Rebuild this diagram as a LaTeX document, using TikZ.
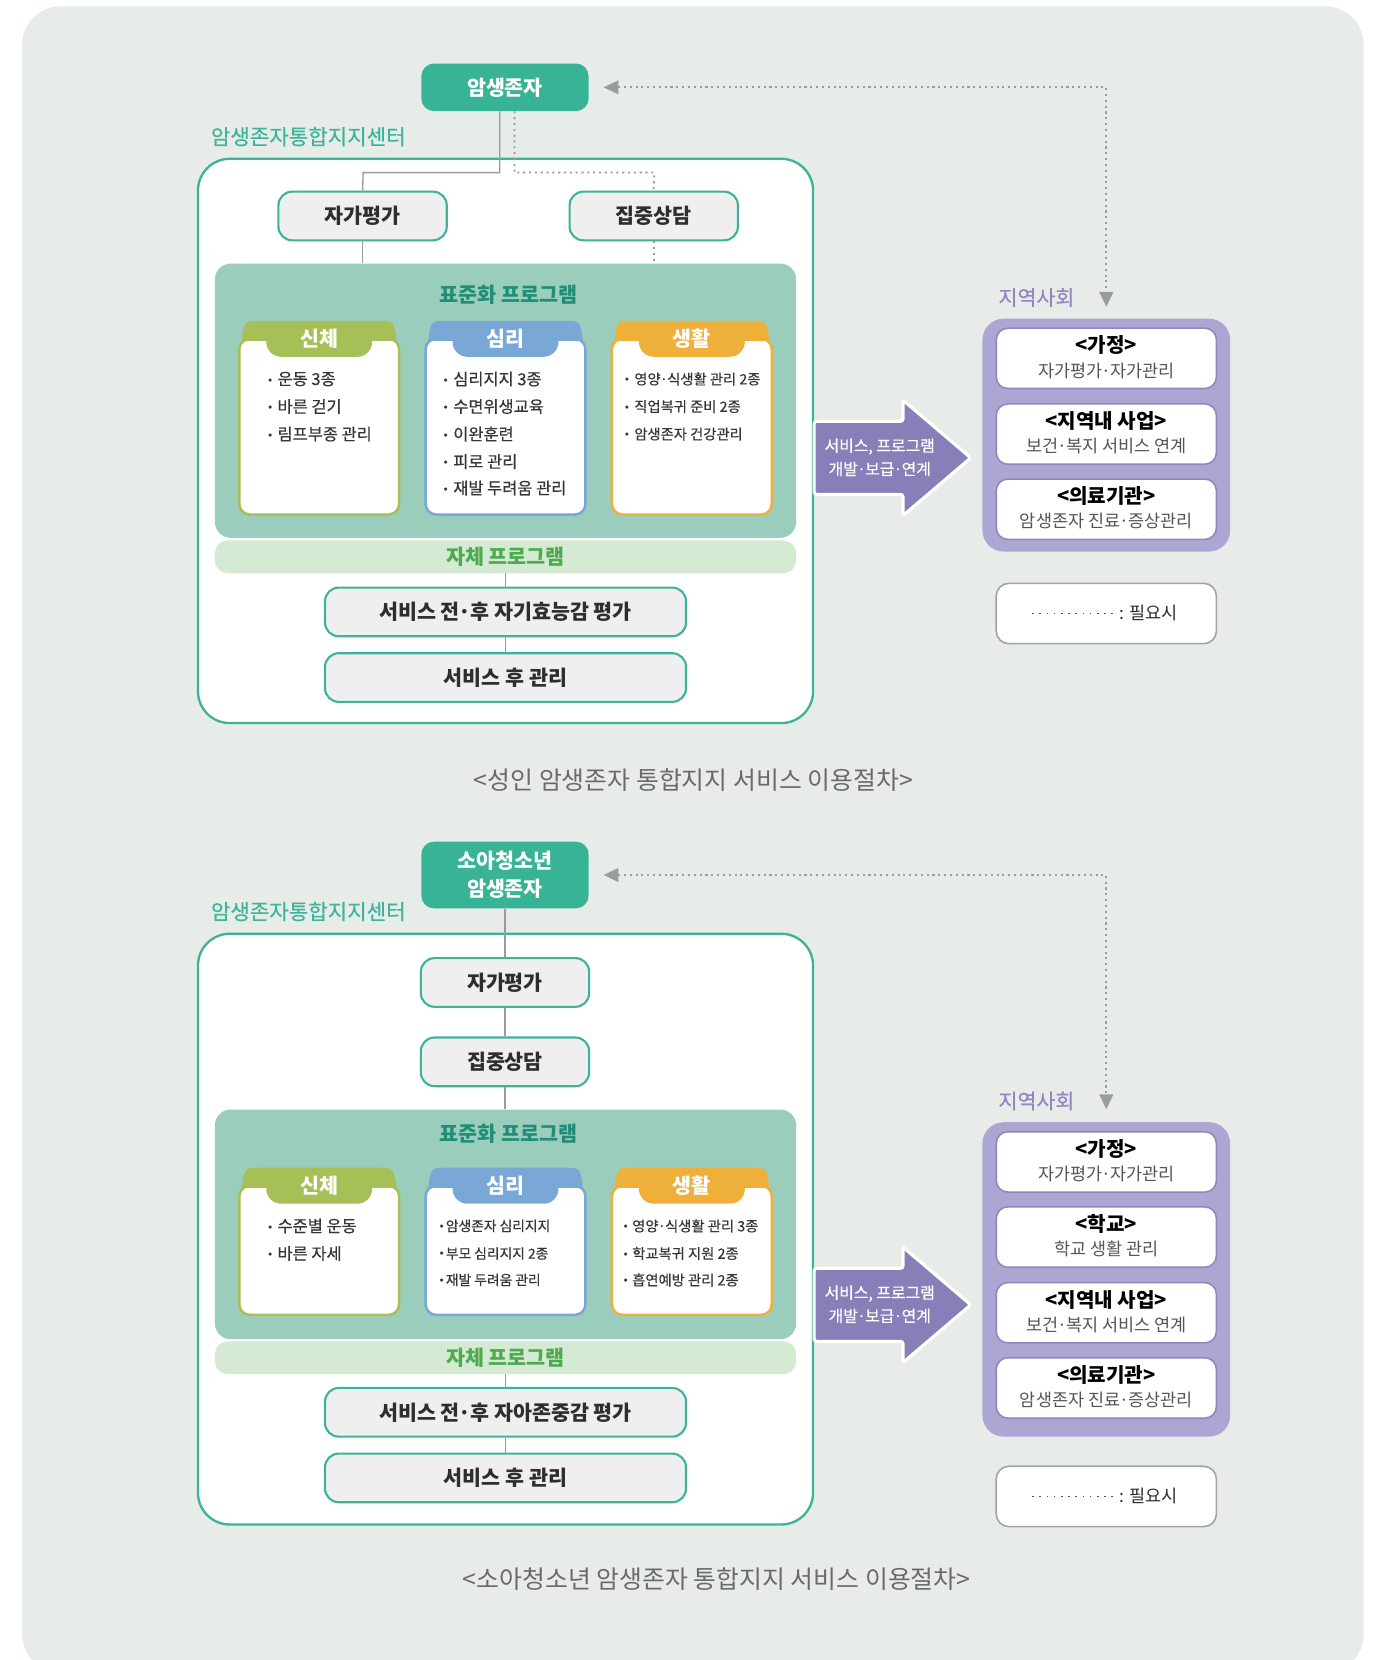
\documentclass[tikz,border=0pt]{standalone}
\usepackage{fontspec}
\setmainfont{Noto Sans CJK KR}
\newfontfamily\medf{Noto Sans CJK KR}[FakeBold=0.45]
\newfontfamily\symf{DejaVu Sans}
\usetikzlibrary{arrows.meta}
\newcommand\myfs[1]{\fontsize{#1}{#1}\selectfont}
\newcommand\md{\kern-0.05em·\kern-0.05em}
\newcommand\bulw[1]{\makebox[#1][l]{\raisebox{0.8pt}{\symf\fontsize{10}{10}\selectfont •}}}
\newcommand\bul{\bulw{10pt}}
\definecolor{bgpanel}{HTML}{E8ECE8}
\definecolor{teal1}{HTML}{38B396}
\definecolor{teal2}{HTML}{3CB39A}
\definecolor{tealtext}{HTML}{3DB49B}
\definecolor{stdfill}{HTML}{9BCDBD}
\definecolor{stdtitle}{HTML}{208E76}
\definecolor{grayfill}{HTML}{EEEFEE}
\definecolor{jachefill}{HTML}{D5EAD3}
\definecolor{jachetext}{HTML}{4CAB4F}
\definecolor{cgreen}{HTML}{A7BF57}
\definecolor{cblue}{HTML}{79A8D6}
\definecolor{corange}{HTML}{EFB03B}
\definecolor{parrow}{HTML}{877FB8}
\definecolor{pcont}{HTML}{ACA6D3}
\definecolor{pborder}{HTML}{8F87C1}
\definecolor{commtext}{HTML}{8E87C2}
\definecolor{txtdark}{HTML}{2E2E2E}
\definecolor{itemtxt}{HTML}{363636}
\definecolor{subgray}{HTML}{555555}
\definecolor{capgray}{HTML}{6A6A6A}
\definecolor{connc}{HTML}{9B9B9B}
\definecolor{legborder}{HTML}{A3A3A3}
\newcommand\cardtab[3]{%
 \fill[#3] ({#1-73},{#2+19}) .. controls ({#1-71},{#2+1}) and ({#1-70},{#2}) .. ({#1-58},{#2}) -- ({#1+58},{#2}) .. controls ({#1+70},{#2}) and ({#1+71},{#2+1}) .. ({#1+73},{#2+19}) -- cycle;
 \fill[#3, rounded corners=14pt] ({#1-50},{#2+3}) rectangle ({#1+50},{#2+34});
}
\newcommand\bigarrow[1]{%
 \filldraw[fill=parrow, draw=white, line width=3pt, rounded corners=2.5pt] (769,{#1-34.5}) -- (853,{#1-34.5}) -- (853,{#1-54.5}) -- (917,#1) -- (853,{#1+54.5}) -- (853,{#1+34.5}) -- (769,{#1+34.5}) -- cycle;
}
\begin{document}
\begin{tikzpicture}[x=1pt,y=-1pt,
 topnode/.style={fill=teal1, rounded corners=12pt, text=white, font=\bfseries\fontsize{19.5}{26}\selectfont, align=center, inner sep=0, minimum width=158, minimum height=45},
 outerbox/.style={draw=teal2, line width=2.2pt, fill=white, rounded corners=30pt, inner sep=0, minimum width=581},
 graybox/.style={draw=teal2, line width=2pt, fill=grayfill, rounded corners=13pt, font=\bfseries\myfs{19.5}, text=txtdark, inner sep=0, minimum height=46},
 centerlbl/.style={anchor=west, inner sep=0, text=tealtext, font=\medf\myfs{20}},
 stdbox/.style={fill=stdfill, rounded corners=15pt, inner sep=0, minimum width=549},
 stdtitle/.style={inner sep=0, text=stdtitle, font=\bfseries\myfs{19.5}},
 cardbox/.style={fill=white, line width=2.4pt, rounded corners=10pt, inner sep=0, minimum width=151},
 tablbl/.style={inner sep=0, text=white, font=\bfseries\myfs{19.5}},
 item/.style={anchor=west, inner sep=0, text=itemtxt},
 jachebar/.style={fill=jachefill, rounded corners=12pt, inner sep=0, minimum width=549, minimum height=31},
 jachelbl/.style={inner sep=0, text=jachetext, font=\bfseries\myfs{19.5}},
 caption/.style={inner sep=0, text=capgray, font=\myfs{23.5}},
 arrowtxt/.style={inner sep=0, text=white, align=center, font=\medf\fontsize{15}{22}\selectfont},
 commlbl/.style={inner sep=0, text=commtext, font=\medf\myfs{19.5}},
 pcontbox/.style={fill=pcont, rounded corners=20pt, inner sep=0, minimum width=234},
 pinner/.style={fill=white, draw=pborder, line width=1.5pt, rounded corners=11pt, inner sep=0, minimum width=208, minimum height=57},
 ptitle/.style={inner sep=0, text=black, font=\bfseries\myfs{19}},
 psub/.style={inner sep=0, text=subgray, font=\myfs{16.5}},
 legendbox/.style={fill=white, draw=legborder, line width=1.5pt, rounded corners=12pt, inner sep=0, minimum width=208, minimum height=57},
 legtxt/.style={anchor=west, inner sep=0, text=txtdark, font=\myfs{16.5}},
 conn/.style={draw=connc, line width=1.3pt},
 dotconn/.style={draw=connc, line width=1.6pt, dash pattern=on 2pt off 3.5pt},
 dotarrow/.style={draw=connc, line width=1.6pt, dash pattern=on 2pt off 3.5pt, {Triangle[length=14pt,width=13pt]}-{Triangle[length=14pt,width=13pt]}},
 legdots/.style={draw=subgray, line width=1.3pt, dash pattern=on 1.5pt off 5.3pt}
]
\useasboundingbox (0,0) rectangle (1312,1568);
\fill[bgpanel, rounded corners=36pt] (21,6) rectangle (1288,1580);

%================ TOP SECTION =================
\node[outerbox, minimum height=533] (out1) at (477.5,416.5) {};
\node[centerlbl] (lbl1) at (199,129) {암생존자통합지지센터};
\node[topnode] (top1) at (477,82.5) {암생존자};
\node[graybox, minimum width=159] (self1) at (342.5,204) {자가평가};
\node[graybox, minimum width=159] (int1) at (617.5,204) {집중상담};
\node[stdbox, minimum height=259] (std1) at (477.5,378.5) {};
\node[stdtitle] (std1t) at (480,278) {표준화 프로그램};

\node[cardbox, draw=cgreen, minimum height=166] (c11) at (301.5,403) {};
\node[cardbox, draw=cblue, minimum height=166] (c12) at (477.5,403) {};
\node[cardbox, draw=corange, minimum height=166] (c13) at (653.5,403) {};
\cardtab{301.5}{303}{cgreen}
\cardtab{477.5}{303}{cblue}
\cardtab{653.5}{303}{corange}
\node[tablbl] (c11l) at (301.5,320) {신체};
\node[tablbl] (c12l) at (477.5,320) {심리};
\node[tablbl] (c13l) at (653.5,320) {생활};

\node[item, font=\medf\myfs{15.5}] (c11a) at (252,358) {\bul 운동 3종};
\node[item, font=\medf\myfs{15.5}] (c11b) at (252,384) {\bul 바른 걷기};
\node[item, font=\medf\myfs{15.5}] (c11c) at (252,410) {\bul 림프부종 관리};
\node[item, font=\medf\myfs{15.5}] (c12a) at (418,358) {\bul 심리지지 3종};
\node[item, font=\medf\myfs{15.5}] (c12b) at (418,384) {\bul 수면위생교육};
\node[item, font=\medf\myfs{15.5}] (c12c) at (418,410) {\bul 이완훈련};
\node[item, font=\medf\myfs{15.5}] (c12d) at (418,436) {\bul 피로 관리};
\node[item, font=\medf\myfs{15.5}] (c12e) at (418,461) {\bul 재발 두려움 관리};
\node[item, font=\medf\myfs{13.5}] (c13a) at (589,358) {\bul 영양\md 식생활 관리 2종};
\node[item, font=\medf\myfs{13.5}] (c13b) at (589,384) {\bul 직업복귀 준비 2종};
\node[item, font=\medf\myfs{13.5}] (c13c) at (589,410) {\bul 암생존자 건강관리};

\node[jachebar] (jc1) at (477.5,526) {};
\node[jachelbl] (jc1l) at (477.5,526) {자체 프로그램};
\node[graybox, minimum width=341] (sv1a) at (477.5,578) {서비스 전\md 후 자기효능감 평가};
\node[graybox, minimum width=341] (sv1b) at (477.5,640) {서비스 후 관리};

\coordinate (t1) at (343,163);
\coordinate (t2) at (618,163);
\draw[conn] ([xshift=-5pt]top1.south) |- (t1) -- (self1.north);
\draw[dotconn] ([xshift=9pt]top1.south) |- (t2) -- (int1.north);
\draw[conn] (self1.south) -- (self1.south |- std1.north);
\draw[dotconn] (int1.south) -- (int1.south |- std1.north);
\draw[conn] (jc1.south) -- (sv1a.north);
\draw[conn] (sv1a.south) -- (sv1b.north);

\node[caption] (cap1) at (655,737) {<성인 암생존자 통합지지 서비스 이용절차>};

\bigarrow{432.5}
\node[arrowtxt] (ar1) at (831,432) {서비스, 프로그램\\개발\md 보급\md 연계};

\node[commlbl] (cm1) at (979,281) {지역사회};
\node[pcontbox, minimum height=220] (pc1) at (1045,411) {};
\node[pinner] (p1a) at (1045,338.5) {};
\node[ptitle] (p1at) at (1045,326) {<가정>};
\node[psub] (p1as) at (1045,350) {자가평가\md 자가관리};
\node[pinner] (p1b) at (1045,410) {};
\node[ptitle] (p1bt) at (1045,397.5) {<지역내 사업>};
\node[psub] (p1bs) at (1045,421.5) {보건\md 복지 서비스 연계};
\node[pinner] (p1c) at (1045,481) {};
\node[ptitle] (p1ct) at (1045,468.5) {<의료기관>};
\node[psub] (p1cs) at (1045,492.5) {암생존자 진료\md 증상관리};

\draw[dotarrow] ([xshift=14pt]top1.east) -| ([yshift=11pt]pc1.north);

\node[legendbox] (lg1) at (1045,579.5) {};
\coordinate (lg1a) at (975,579.5);
\coordinate (lg1b) at (1051,579.5);
\draw[legdots] (lg1a) -- (lg1b);
\node[legtxt] (lg1t) at (1057,579) {: 필요시};

%================ BOTTOM SECTION =================
\node[outerbox, minimum height=558] (out2) at (477.5,1161) {};
\node[centerlbl] (lbl2) at (199,861) {암생존자통합지지센터};
\node[topnode, minimum height=63] (top2) at (477,826.5) {소아청소년\\암생존자};
\node[graybox, minimum width=159] (self2) at (477,928) {자가평가};
\node[graybox, minimum width=159] (int2) at (477,1003) {집중상담};
\node[stdbox, minimum height=217] (std2) at (477.5,1156.5) {};
\node[stdtitle] (std2t) at (480,1071) {표준화 프로그램};

\node[cardbox, draw=cgreen, minimum height=122] (c21) at (301.5,1181) {};
\node[cardbox, draw=cblue, minimum height=122] (c22) at (477.5,1181) {};
\node[cardbox, draw=corange, minimum height=122] (c23) at (653.5,1181) {};
\cardtab{301.5}{1103}{cgreen}
\cardtab{477.5}{1103}{cblue}
\cardtab{653.5}{1103}{corange}
\node[tablbl] (c21l) at (301.5,1120) {신체};
\node[tablbl] (c22l) at (477.5,1120) {심리};
\node[tablbl] (c23l) at (653.5,1120) {생활};

\node[item, font=\medf\myfs{15.5}] (c21a) at (252,1158) {\bul 수준별 운동};
\node[item, font=\medf\myfs{15.5}] (c21b) at (252,1184) {\bul 바른 자세};
\node[item, font=\medf\myfs{13}] (c22a) at (414,1158) {\bulw{7pt}암생존자 심리지지};
\node[item, font=\medf\myfs{13}] (c22b) at (414,1184) {\bulw{7pt}부모 심리지지 2종};
\node[item, font=\medf\myfs{13}] (c22c) at (414,1209) {\bulw{7pt}재발 두려움 관리};
\node[item, font=\medf\myfs{13.5}] (c23a) at (588,1158) {\bulw{9pt}영양\md 식생활 관리 3종};
\node[item, font=\medf\myfs{13.5}] (c23b) at (588,1184) {\bulw{9pt}학교복귀 지원 2종};
\node[item, font=\medf\myfs{13.5}] (c23c) at (588,1209) {\bulw{9pt}흡연예방 관리 2종};

\node[jachebar] (jc2) at (477.5,1282.5) {};
\node[jachelbl] (jc2l) at (477.5,1282.5) {자체 프로그램};
\node[graybox, minimum width=341] (sv2a) at (477.5,1334) {서비스 전\md 후 자아존중감 평가};
\node[graybox, minimum width=341] (sv2b) at (477.5,1396) {서비스 후 관리};

\draw[conn] (top2.south) -- (self2.north);
\draw[conn] (self2.south) -- (int2.north);
\draw[conn] (int2.south) -- (int2.south |- std2.north);
\draw[conn] (jc2.south) -- (sv2a.north);
\draw[conn] (sv2a.south) -- (sv2b.north);

\node[caption] (cap2) at (677,1492) {<소아청소년 암생존자 통합지지 서비스 이용절차>};

\bigarrow{1232.5}
\node[arrowtxt] (ar2) at (831,1232) {서비스, 프로그램\\개발\md 보급\md 연계};

\node[commlbl] (cm2) at (979,1040) {지역사회};
\node[pcontbox, minimum height=297] (pc2) at (1045,1208.5) {};
\node[pinner] (p2a) at (1045,1097.5) {};
\node[ptitle] (p2at) at (1045,1085) {<가정>};
\node[psub] (p2as) at (1045,1109) {자가평가\md 자가관리};
\node[pinner] (p2b) at (1045,1168.5) {};
\node[ptitle] (p2bt) at (1045,1156) {<학교>};
\node[psub] (p2bs) at (1045,1180) {학교 생활 관리};
\node[pinner] (p2c) at (1045,1240) {};
\node[ptitle] (p2ct) at (1045,1227.5) {<지역내 사업>};
\node[psub] (p2cs) at (1045,1251.5) {보건\md 복지 서비스 연계};
\node[pinner] (p2d) at (1045,1311) {};
\node[ptitle] (p2dt) at (1045,1298.5) {<의료기관>};
\node[psub] (p2ds) at (1045,1322.5) {암생존자 진료\md 증상관리};

\draw[dotarrow] ([xshift=14pt]top2.east) -| ([yshift=12pt]pc2.north);

\node[legendbox] (lg2) at (1045,1413.5) {};
\coordinate (lg2a) at (975,1413.5);
\coordinate (lg2b) at (1051,1413.5);
\draw[legdots] (lg2a) -- (lg2b);
\node[legtxt] (lg2t) at (1057,1413) {: 필요시};
\end{tikzpicture}
\end{document}
